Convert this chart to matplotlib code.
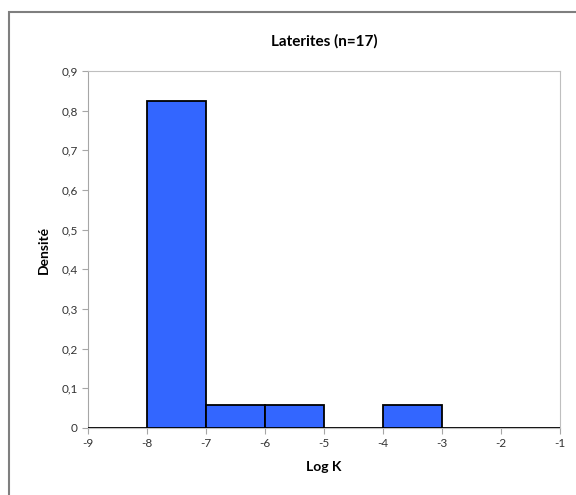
import matplotlib
matplotlib.use("Agg")
import matplotlib.pyplot as plt
from matplotlib.patches import Rectangle
from matplotlib.ticker import FuncFormatter

# histogram of log K for laterites, n = 17
bin_left = [-9, -8, -7, -6, -5, -4, -3, -2]
counts = [0, 14, 1, 1, 0, 1, 0, 0]
n_total = 17
density = [c / n_total for c in counts]

x_ticks = [-9, -8, -7, -6, -5, -4, -3, -2, -1]
y_ticks = [0, 0.1, 0.2, 0.3, 0.4, 0.5, 0.6, 0.7, 0.8, 0.9]

plt.rcParams['font.family'] = ['Lato', 'DejaVu Sans']

fig = plt.figure(figsize=(5.76, 4.95), dpi=100)
ax = fig.add_axes([88 / 576, 67 / 495, 472 / 576, 357 / 495])

# outer chart border
fig.patches.append(Rectangle((9 / 576, -0.05), 1.0, 1 - 12 / 495 + 0.05,
                             transform=fig.transFigure, fill=False,
                             edgecolor='#7f7f7f', linewidth=1.5))

ax.bar(bin_left, density, width=1, align='edge', color='#3366ff',
       edgecolor='black', linewidth=1.3, zorder=3)

ax.set_xlim(-9, -1)
ax.set_ylim(0, 0.9)
ax.set_xticks(x_ticks)
ax.set_yticks(y_ticks)


def comma_fmt(v, pos):
    if abs(v) < 1e-9:
        return '0'
    return ('%.1f' % v).replace('.', ',')


ax.yaxis.set_major_formatter(FuncFormatter(comma_fmt))
ax.xaxis.set_major_formatter(FuncFormatter(lambda v, p: '%d' % v))

for s in ax.spines.values():
    s.set_color('#bfbfbf')
    s.set_linewidth(0.8)
ax.spines['left'].set_color('#a6a6a6')

ax.tick_params(axis='both', colors='#a6a6a6', labelcolor='#333333',
               labelsize=8.5, length=4, width=0.8, direction='out')

ax.set_title('Laterites (n=17)', fontsize=11, fontweight='bold', pad=18)
ax.set_xlabel('Log K', fontsize=10, fontweight='bold', labelpad=8)
ax.set_ylabel('Densité', fontsize=10, fontweight='bold', labelpad=8)

fig.savefig('out.png', dpi=100)
